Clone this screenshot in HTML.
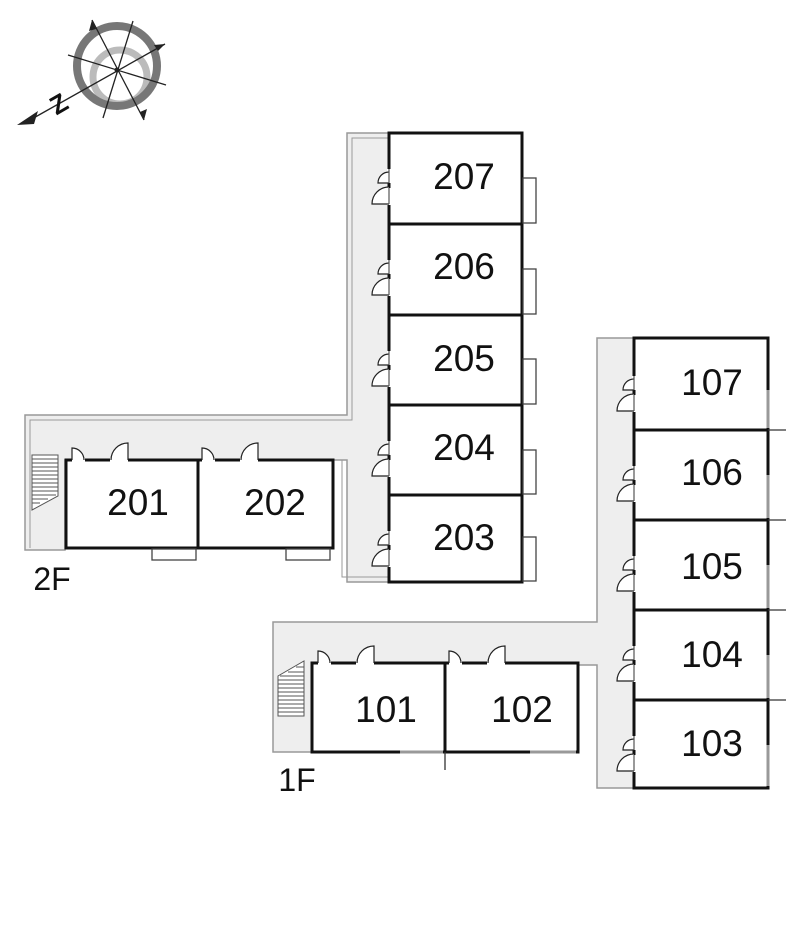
<!DOCTYPE html>
<html><head><meta charset="utf-8"><style>
html,body{margin:0;padding:0;background:#fff;}
svg{display:block;}
text{font-family:"Liberation Sans",sans-serif;font-size:37px;fill:#111;}
</style></head><body>
<svg width="800" height="940" viewBox="0 0 800 940" xmlns="http://www.w3.org/2000/svg">
<defs>
<g id="vd" fill="#fff" stroke="#222" stroke-width="1.2">
  <rect x="-2" y="-14" width="4" height="14" stroke="none"/>
  <path d="M0,0 h-11 a11,11 0 0 1 11,-11" />
  <rect x="-2" y="5" width="4" height="17" stroke="none"/>
  <path d="M0,21 h-17 a17,17 0 0 1 17,-17" />
  <line x1="0" y1="-14" x2="0" y2="0" stroke="#555"/>
  <line x1="0" y1="5" x2="0" y2="21" stroke="#555"/>
</g>
<g id="hd" fill="#fff" stroke="#222" stroke-width="1.2">
  <rect x="0" y="-2" width="13" height="4" stroke="none"/>
  <path d="M0,0 v-12 a12,12 0 0 1 12,12" />
  <rect x="38" y="-2" width="18" height="4" stroke="none"/>
  <path d="M56,0 v-17 a17,17 0 0 0 -17,17" />
</g>
</defs>

<g>
  <circle cx="120" cy="77" r="27" fill="none" stroke="#bbb" stroke-width="7"/>
  <circle cx="117" cy="66" r="40" fill="none" stroke="#777" stroke-width="8"/>
  <g stroke="#222" stroke-width="1.3">
    <line x1="92" y1="20" x2="144" y2="120"/>
    <line x1="133" y1="21" x2="103" y2="118"/>
    <line x1="68" y1="55" x2="166" y2="85"/>
    <line x1="165" y1="44" x2="30" y2="120"/>
  </g>
  <circle cx="117" cy="70" r="2.5" fill="#222"/>
  <polygon points="92,20 89,31 96,29" fill="#222"/>
  <polygon points="144,120 147,109 140,112" fill="#222"/>
  <polygon points="165,44 154,45 158,51" fill="#222"/>
  <polygon points="17,125 38,111 34,124" fill="#222"/>
  <text x="50" y="112" style="font-size:26px;font-weight:bold" transform="rotate(-30 60 102)">Z</text>
</g>

<polygon points="25,415 347,415 347,133 389,133 389,582 347,582 347,460 65,460 65,550 25,550" fill="#eee" stroke="#999" stroke-width="1.5"/>
<polyline points="30,548 30,420 352,420 352,138 389,138" fill="none" stroke="#999" stroke-width="1"/>
<polyline points="333,460 342,460 342,577 389,577" fill="none" stroke="#999" stroke-width="1"/>
<g stroke="#555" stroke-width="1" fill="#fff">
  <polygon points="32,455 58,455 58,496 32,510"/>
  <path d="M32,459h26M32,463h26M32,467h26M32,471h26M32,475h26M32,479h26M32,483h26M32,487h26M32,491h26M32,495h24M32,499h16M32,503h8" fill="none"/>
</g>
<g fill="#fff" stroke="#111" stroke-width="3">
  <rect x="66" y="460" width="132" height="88"/>
  <rect x="198" y="460" width="135" height="88"/>
  <rect x="389" y="133" width="133" height="91"/>
  <rect x="389" y="224" width="133" height="91"/>
  <rect x="389" y="315" width="133" height="90"/>
  <rect x="389" y="405" width="133" height="90"/>
  <rect x="389" y="495" width="133" height="87"/>
</g>
<g fill="#fff" stroke="#444" stroke-width="1.3">
  <rect x="152" y="549" width="44" height="11"/>
  <rect x="286" y="549" width="44" height="11"/>
  <rect x="523" y="178" width="13" height="45"/>
  <rect x="523" y="269" width="13" height="45"/>
  <rect x="523" y="359" width="13" height="45"/>
  <rect x="523" y="450" width="13" height="44"/>
  <rect x="523" y="537" width="13" height="44"/>
</g>
<use href="#hd" x="72" y="460"/>
<use href="#hd" x="202" y="460"/>
<use href="#vd" x="389" y="183"/>
<use href="#vd" x="389" y="274"/>
<use href="#vd" x="389" y="365"/>
<use href="#vd" x="389" y="455"/>
<use href="#vd" x="389" y="545"/>

<polygon points="273,622 597,622 597,338 634,338 634,788 597,788 597,665 578,665 578,663 312,663 312,752 273,752" fill="#eee" stroke="#999" stroke-width="1.5"/>
<g stroke="#555" stroke-width="1" fill="#fff">
  <polygon points="278,716 304,716 304,661 278,676"/>
  <path d="M278,712h26M278,708h26M278,704h26M278,700h26M278,696h26M278,692h26M278,688h26M278,684h26M278,680h26M280,676h24M288,672h16M296,667h8" fill="none"/>
</g>
<g fill="#fff" stroke="#111" stroke-width="3">
  <rect x="312" y="663" width="133" height="89"/>
  <rect x="445" y="663" width="133" height="89"/>
  <rect x="634" y="338" width="134" height="92"/>
  <rect x="634" y="430" width="134" height="90"/>
  <rect x="634" y="520" width="134" height="90"/>
  <rect x="634" y="610" width="134" height="90"/>
  <rect x="634" y="700" width="134" height="88"/>
</g>
<g stroke="#999" stroke-width="3">
  <line x1="400" y1="752" x2="443" y2="752"/>
  <line x1="530" y1="752" x2="576" y2="752"/>
  <line x1="768" y1="390" x2="768" y2="428"/>
  <line x1="768" y1="475" x2="768" y2="518"/>
  <line x1="768" y1="565" x2="768" y2="608"/>
  <line x1="768" y1="655" x2="768" y2="698"/>
  <line x1="768" y1="745" x2="768" y2="786"/>
</g>
<g stroke="#333" stroke-width="1.3">
  <line x1="445" y1="752" x2="445" y2="770"/>
  <line x1="768" y1="430" x2="786" y2="430"/>
  <line x1="768" y1="520" x2="786" y2="520"/>
  <line x1="768" y1="610" x2="786" y2="610"/>
  <line x1="768" y1="700" x2="786" y2="700"/>
</g>
<use href="#hd" x="318" y="663"/>
<use href="#hd" x="449" y="663"/>
<use href="#vd" x="634" y="390"/>
<use href="#vd" x="634" y="480"/>
<use href="#vd" x="634" y="570"/>
<use href="#vd" x="634" y="660"/>
<use href="#vd" x="634" y="750"/>

<g text-anchor="middle">
  <text x="138" y="515">201</text>
  <text x="275" y="515">202</text>
  <text x="464" y="189">207</text>
  <text x="464" y="279">206</text>
  <text x="464" y="371">205</text>
  <text x="464" y="460">204</text>
  <text x="464" y="550">203</text>
  <text x="386" y="722">101</text>
  <text x="522" y="722">102</text>
  <text x="712" y="395">107</text>
  <text x="712" y="485">106</text>
  <text x="712" y="579">105</text>
  <text x="712" y="667">104</text>
  <text x="712" y="756">103</text>
  <text x="52" y="590" style="font-size:32px">2F</text>
  <text x="297" y="791" style="font-size:32px">1F</text>
</g>
</svg>
</body></html>
